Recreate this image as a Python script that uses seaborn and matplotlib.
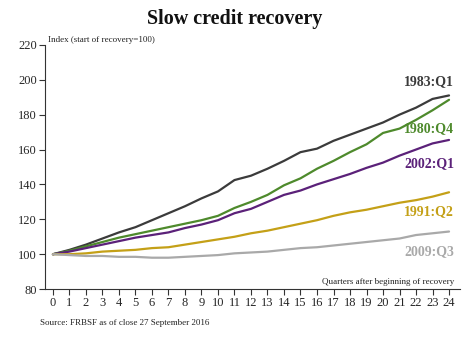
import numpy as np
import pandas as pd
import matplotlib
matplotlib.use("Agg")
import matplotlib.pyplot as plt
import seaborn as sns

quarters = list(range(25))
s1983_q1 = [100, 102.5, 105.5, 109, 112.5, 115.5, 119.5, 123.5, 127.5, 132, 136, 142.5, 145,
            149, 153.5, 158.5, 160.5, 165, 168.5, 172, 175.5, 180, 184, 189, 191]
s1980_q4 = [100, 102, 104.5, 107, 109.5, 111.5, 113.5, 115.5, 117.5, 119.5, 122, 126.5, 130,
            134, 139.5, 143.5, 149, 153.5, 158.5, 163, 169.5, 172, 177, 182.5, 188.5]
s2002_q1 = [100, 101.5, 103.5, 105.5, 107.5, 109.5, 111, 112.5, 115, 117, 119.5, 123.5, 126,
            130, 134, 136.5, 140, 143, 146, 149.5, 152.5, 156.5, 160, 163.5, 165.5]
s1991_q2 = [100, 100, 100.5, 101.5, 102, 102.5, 103.5, 104, 105.5, 107, 108.5, 110, 112,
            113.5, 115.5, 117.5, 119.5, 122, 124, 125.5, 127.5, 129.5, 131, 133, 135.5]
s2009_q3 = [100, 99.5, 99, 99, 98.5, 98.5, 98, 98, 98.5, 99, 99.5, 100.5, 101,
            101.5, 102.5, 103.5, 104, 105, 106, 107, 108, 109, 111, 112, 113]

series_names = ["1983:Q1", "1980:Q4", "2002:Q1", "1991:Q2", "2009:Q3"]
series_values = [s1983_q1, s1980_q4, s2002_q1, s1991_q2, s2009_q3]
colors = ["#3b3b3b", "#4e8a2c", "#5b2179", "#c4a017", "#a9a9a9"]
label_y = [199, 172, 152, 124.5, 101.5]
y_ticks = [80, 100, 120, 140, 160, 180, 200, 220]

df = pd.DataFrame({
    "quarter": quarters * len(series_names),
    "value": sum(series_values, []),
    "series": sum([[n] * len(quarters) for n in series_names], []),
})

sns.set_style("ticks")
plt.rcParams['font.family'] = ['Liberation Serif', 'DejaVu Serif']

fig = plt.figure(figsize=(4.69, 3.45), dpi=100)
ax = fig.add_axes([0.096, 0.162, 0.885, 0.708])

sns.lineplot(data=df, x="quarter", y="value", hue="series", hue_order=series_names,
             palette=colors, linewidth=1.6, legend=False, ax=ax)

for name, col, ly in zip(series_names, colors, label_y):
    ax.text(24.3, ly, name, color=col, ha="right", va="center",
            fontsize=10, fontweight="bold")

ax.set_xlim(-0.48, 24.67)
ax.set_ylim(80, 220)
ax.set_xticks(quarters)
ax.set_xticklabels([str(q) for q in quarters], fontsize=9)
ax.set_yticks(y_ticks)
ax.set_yticklabels([str(t) for t in y_ticks], fontsize=9)
ax.set_xlabel("")
ax.set_ylabel("")
ax.tick_params(axis="both", direction="out", length=4, width=0.8, color="#333333", pad=2)
for sp in ["top", "right"]:
    ax.spines[sp].set_visible(False)
for sp in ["left", "bottom"]:
    ax.spines[sp].set_color("#333333")
    ax.spines[sp].set_linewidth(0.8)

fig.text(0.5, 0.945, "Slow credit recovery", ha="center", va="center",
         fontsize=14.5, fontweight="bold", color="#111111")
fig.text(0.102, 0.883, "Index (start of recovery=100)", ha="left", va="center",
         fontsize=6.5, color="#222222")
ax.text(24.3, 82, "Quarters after beginning of recovery", ha="right", va="bottom",
        fontsize=6.5, color="#222222")
fig.text(0.085, 0.063, "Source: FRBSF as of close 27 September 2016", ha="left",
         va="center", fontsize=6.5, color="#222222")

fig.savefig("out.png", dpi=100)
